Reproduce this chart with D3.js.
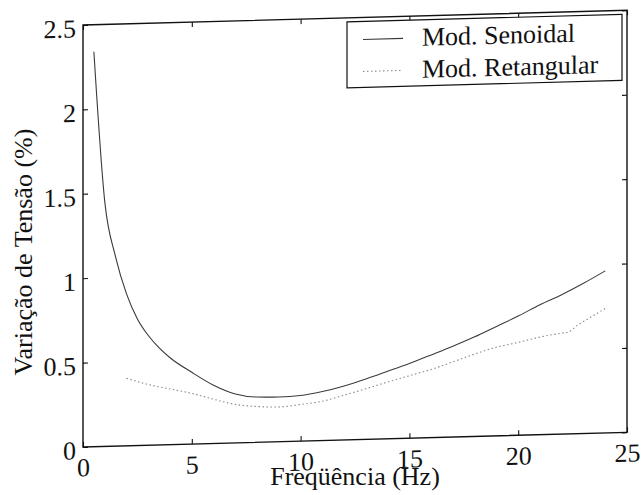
<!DOCTYPE html>
<html>
<head>
<meta charset="utf-8">
<script src="https://cdn.jsdelivr.net/npm/d3@7"></script>
<style>
  html, body { margin: 0; padding: 0; background: #fff; }
  svg { display: block; }
</style>
</head>
<body>
<svg id="chart" width="641" height="495"></svg>
<script>
// Frequency (Hz) and voltage variation (%) for each modulation type
const freqSenoidal = [0.5, 1.0, 1.5, 2.0, 2.5, 3.0, 3.5, 4.0, 5.0, 6.0, 7.0, 8.0, 9.0, 10.0,
                      11.0, 12.0, 13.0, 14.0, 15.0, 16.0, 17.0, 18.0, 19.0, 20.0, 21.0, 22.0, 23.0, 24.0];
const valSenoidal  = [2.34, 1.45, 1.12, 0.90, 0.75, 0.65, 0.575, 0.515, 0.425, 0.345, 0.29, 0.268, 0.265, 0.27,
                      0.29, 0.32, 0.358, 0.40, 0.443, 0.49, 0.538, 0.59, 0.648, 0.706, 0.77, 0.826, 0.89, 0.96];

const freqRetangular = [2.0, 3.0, 4.0, 5.0, 6.0, 7.0, 8.0, 9.0, 10.0, 11.0, 12.0, 13.0, 14.0, 15.0,
                        16.0, 17.0, 18.0, 19.0, 20.0, 21.0, 22.0, 22.3, 22.7, 23.0, 24.0];
const valRetangular  = [0.40, 0.36, 0.33, 0.30, 0.262, 0.228, 0.212, 0.206, 0.217, 0.233, 0.265, 0.30, 0.336, 0.37,
                        0.404, 0.445, 0.488, 0.525, 0.55, 0.578, 0.598, 0.603, 0.64, 0.663, 0.737];

const xTicks = [0, 5, 10, 15, 20, 25];
const yTicks = [0, 0.5, 1, 1.5, 2, 2.5];
const legendLabels = ["Mod. Senoidal", "Mod. Retangular"];

const serif = "'Liberation Serif', 'DejaVu Serif', serif";
const fontSize = 26;

const svg = d3.select("#chart");
const plotLeft = 83, plotRight = 627, plotTop = 25, plotBottom = 447;
const shear = 0.027;   // the whole plot frame leans slightly upward to the right

const x = d3.scaleLinear().domain([0, 25]).range([plotLeft, plotRight]);
const y = d3.scaleLinear().domain([0, 2.5]).range([plotBottom, plotTop]);

const plot = svg.append("g")
  .attr("transform", `matrix(1,${-shear},0,1,0,${shear * plotLeft})`);

// Axes with inward ticks on all four sides
const gx = plot.append("g").attr("transform", `translate(0,${plotBottom})`)
  .call(d3.axisBottom(x).tickValues(xTicks).tickFormat(d3.format("d"))
        .tickSizeInner(-5).tickSizeOuter(0).tickPadding(11));
const gy = plot.append("g").attr("transform", `translate(${plotLeft},0)`)
  .call(d3.axisLeft(y).tickValues(yTicks).tickFormat(d => d3.format("")(d))
        .tickSizeInner(-5).tickSizeOuter(0).tickPadding(7));
const gt = plot.append("g").attr("transform", `translate(0,${plotTop})`)
  .call(d3.axisTop(x).tickValues(xTicks).tickFormat("").tickSizeInner(-5).tickSizeOuter(0));
const gr = plot.append("g").attr("transform", `translate(${plotRight},0)`)
  .call(d3.axisRight(y).tickValues(yTicks).tickFormat("").tickSizeInner(-5).tickSizeOuter(0));

[gx, gy, gt, gr].forEach(g => {
  g.attr("font-family", serif).attr("font-size", fontSize);
  g.select(".domain").remove();
  g.selectAll(".tick line").attr("stroke", "#111").attr("stroke-width", 1.1);
  g.selectAll(".tick text").attr("fill", "#111");
});
gy.selectAll(".tick text").attr("dy", "0.45em");

plot.append("rect")
  .attr("x", plotLeft).attr("y", plotTop)
  .attr("width", plotRight - plotLeft).attr("height", plotBottom - plotTop)
  .attr("fill", "none").attr("stroke", "#111").attr("stroke-width", 1.4);

// Curves
const line = d3.line().x(d => x(d[0])).y(d => y(d[1])).curve(d3.curveMonotoneX);
const senoidal = freqSenoidal.map((f, i) => [f, valSenoidal[i]]);
const retangular = freqRetangular.map((f, i) => [f, valRetangular[i]]);

const styles = [
  { stroke: "#3a3a3a", width: 1.1, dash: null },
  { stroke: "#8a8a8a", width: 1.1, dash: "1.5,2.5" }
];

plot.append("path").datum(senoidal).attr("d", line)
  .attr("fill", "none").attr("stroke", styles[0].stroke).attr("stroke-width", styles[0].width);
plot.append("path").datum(retangular).attr("d", line)
  .attr("fill", "none").attr("stroke", styles[1].stroke).attr("stroke-width", styles[1].width)
  .attr("stroke-dasharray", styles[1].dash);

// Legend
const legend = plot.append("g").attr("font-family", serif).attr("font-size", fontSize);
legend.append("rect")
  .attr("x", 347).attr("y", 29).attr("width", 275).attr("height", 66)
  .attr("fill", "#fff").attr("stroke", "#111").attr("stroke-width", 1.2);
legendLabels.forEach((lab, i) => {
  const ly = 47 + i * 32;
  legend.append("line")
    .attr("x1", 363).attr("x2", 403).attr("y1", ly).attr("y2", ly)
    .attr("stroke", styles[i].stroke).attr("stroke-width", styles[i].width)
    .attr("stroke-dasharray", styles[i].dash);
  legend.append("text")
    .attr("x", 422).attr("y", ly + 8)
    .attr("fill", "#111")
    .text(lab);
});

// Axis titles
svg.append("text")
  .attr("x", (plotLeft + plotRight) / 2).attr("y", 485)
  .attr("text-anchor", "middle")
  .attr("font-family", serif).attr("font-size", fontSize).attr("fill", "#111")
  .text("Freqüência (Hz)");

svg.append("text")
  .attr("transform", "translate(32,252) rotate(-90)")
  .attr("text-anchor", "middle")
  .attr("font-family", serif).attr("font-size", fontSize).attr("fill", "#111")
  .text("Variação de Tensão (%)");
</script>
</body>
</html>
